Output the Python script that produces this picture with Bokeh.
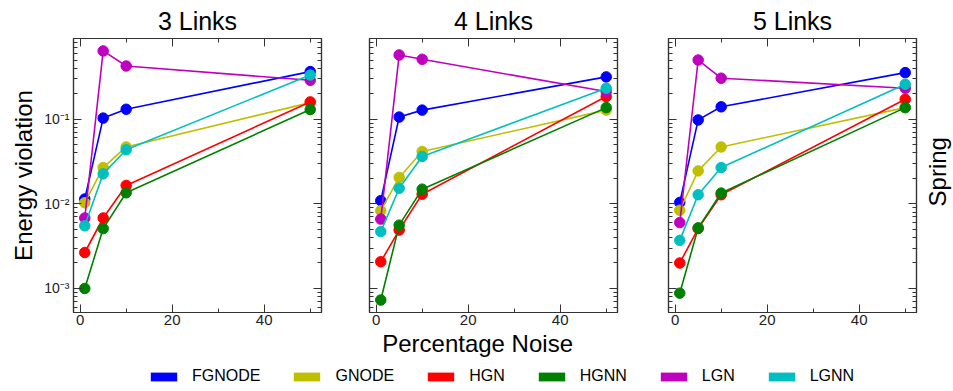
import math
from bokeh.plotting import figure
from bokeh.models import (Range1d, LogAxis, LinearAxis, LogTicker, SingleIntervalTicker,
                          CustomJSTickFormatter, Label, Legend, LegendItem, Title)
from bokeh.layouts import column, row
from bokeh.embed import file_html
from bokeh.resources import INLINE

# ---------------- data ----------------
noise = [1, 5, 10, 50]
panel_titles = ["3 Links", "4 Links", "5 Links"]
models = ["FGNODE", "GNODE", "HGN", "HGNN", "LGN", "LGNN"]
colors = ["#0000ff", "#bfbf00", "#ff0000", "#008000", "#bf00bf", "#00bfbf"]

# energy violation per panel (3, 4, 5 links), values at noise 1, 5, 10, 50 %
fgnode = [[0.0114, 0.103, 0.131, 0.365], [0.0109, 0.106, 0.128, 0.316], [0.0104, 0.098, 0.140, 0.355]]
gnode = [[0.0103, 0.0268, 0.047, 0.157], [0.0083, 0.0205, 0.0415, 0.128], [0.0084, 0.0245, 0.047, 0.137]]
hgn = [[0.00266, 0.0068, 0.0165, 0.160], [0.00207, 0.0049, 0.0130, 0.185], [0.0020, 0.0051, 0.0128, 0.172]]
hgnn = [[0.0010, 0.0051, 0.0135, 0.130], [0.00073, 0.0056, 0.0149, 0.137], [0.00088, 0.0052, 0.0134, 0.137]]
lgn = [[0.0068, 0.64, 0.425, 0.288], [0.0066, 0.574, 0.51, 0.212], [0.0060, 0.50, 0.305, 0.232]]
lgnn = [[0.0055, 0.0226, 0.0435, 0.333], [0.0047, 0.0153, 0.0363, 0.232], [0.0037, 0.0128, 0.0268, 0.259]]
series = [fgnode, gnode, hgn, hgnn, lgn, lgnn]

FONT = "Liberation Sans"
AX = "#333333"
TOP = 37
FRAME_W = 248
FRAME_H = 275
BOT = 54
H1 = TOP + FRAME_H + BOT   # 366
W_TOTAL = 953
H_TOTAL = 391
H2 = H_TOTAL - H1

sup_code = """
const e = Math.round(Math.log10(tick));
const m = {"-":"\\u207b","0":"\\u2070","1":"\\u00b9","2":"\\u00b2","3":"\\u00b3",
           "4":"\\u2074","5":"\\u2075","6":"\\u2076","7":"\\u2077","8":"\\u2078","9":"\\u2079"};
return "10" + String(e).split("").map(c => m[c]).join("");
"""


def style_axis(ax, show_labels):
    ax.major_tick_in = 8
    ax.major_tick_out = 0
    ax.minor_tick_in = 4
    ax.minor_tick_out = 0
    ax.axis_line_color = AX
    ax.axis_line_width = 1.2
    ax.major_tick_line_color = AX
    ax.minor_tick_line_color = AX
    ax.major_label_text_font = FONT
    ax.major_label_text_color = "#222222"
    if not show_labels:
        ax.formatter = CustomJSTickFormatter(code="return '';")
        ax.major_label_text_font_size = "1px"
        ax.major_label_standoff = 0


def make_panel(i, left, right):
    p = figure(width=left + FRAME_W + right, height=H1,
               x_range=Range1d(-1.45, 52.45), y_range=Range1d(5.2e-4, 0.898),
               y_axis_type="log", output_backend="svg", toolbar_location=None,
               min_border_left=left, min_border_right=right,
               min_border_top=TOP, min_border_bottom=BOT, title=panel_titles[i])
    p.title.text_font = FONT
    p.title.text_font_size = "25px"
    p.title.text_font_style = "normal"
    p.title.align = "center"
    p.title.text_color = "#000000"
    p.title.standoff = 8
    p.grid.visible = False
    p.outline_line_color = AX
    p.outline_line_width = 1.2

    xa = p.xaxis[0]
    xa.ticker = SingleIntervalTicker(interval=20, num_minor_ticks=2)
    style_axis(xa, True)
    xa.major_label_text_font_size = "15px"
    xa.major_label_standoff = 2

    ya = p.yaxis[0]
    ya.ticker = LogTicker(num_minor_ticks=10, mantissas=[1])
    if i == 0:
        style_axis(ya, True)
        ya.formatter = CustomJSTickFormatter(code=sup_code)
        ya.major_label_text_font_size = "14px"
        ya.major_label_standoff = 4
        ya.axis_label = "Energy violation"
        ya.axis_label_text_font = FONT
        ya.axis_label_text_font_size = "24px"
        ya.axis_label_text_font_style = "normal"
        ya.axis_label_text_color = "#000000"
        ya.axis_label_standoff = 4
    else:
        style_axis(ya, False)

    ta = LinearAxis(ticker=SingleIntervalTicker(interval=20, num_minor_ticks=2))
    style_axis(ta, False)
    p.add_layout(ta, "above")
    ra = LogAxis(ticker=LogTicker(num_minor_ticks=10, mantissas=[1]))
    style_axis(ra, False)
    p.add_layout(ra, "right")

    for name, c, s in zip(models, colors, series):
        p.line(noise, s[i], line_color=c, line_width=1.6)
        p.scatter(noise, s[i], size=10.5, fill_color=c, line_color=c)
    return p


p1 = make_panel(0, 73, 24)
p2 = make_panel(1, 24, 25)
p3 = make_panel(2, 26, 6)
W4 = W_TOTAL - p1.width - p2.width - p3.width

p2.add_layout(Title(text="Percentage Noise", align="left", offset=12.7, standoff=0,
                    text_font=FONT, text_font_size="24px", text_font_style="normal",
                    text_color="#000000"), "below")

# strip on the right for the row label
p4 = figure(width=W4, height=H1, x_range=Range1d(0, W4), y_range=Range1d(0, H1),
            output_backend="svg", toolbar_location=None,
            x_axis_location=None, y_axis_location=None,
            min_border_left=0, min_border_right=0, min_border_top=0, min_border_bottom=0)
p4.grid.visible = False
p4.outline_line_color = None
p4.add_layout(Label(x=W4 - 16.3, y=H1 - 178, text="Spring", angle=math.pi / 2,
                    text_font=FONT, text_font_size="24px", text_align="center",
                    text_baseline="middle", text_color="#000000"))

# legend strip
lp = figure(width=W_TOTAL, height=H2, x_range=Range1d(0, 1), y_range=Range1d(0, 1),
            output_backend="svg", toolbar_location=None,
            x_axis_location=None, y_axis_location=None,
            min_border_left=0, min_border_right=0, min_border_top=0, min_border_bottom=0)
lp.grid.visible = False
lp.outline_line_color = None
items = []
for name, c in zip(models, colors):
    # proxy glyph kept outside the visible range; only its legend swatch shows
    r = lp.quad(left=[-3], right=[-2], top=[-2], bottom=[-3], fill_color=c, line_color=None)
    items.append(LegendItem(label=name, renderers=[r]))
leg = Legend(items=items, orientation="horizontal", location=(147, 6),
             glyph_width=33, glyph_height=11, label_height=12, label_standoff=12,
             spacing=30, padding=0, margin=0, border_line_color=None,
             background_fill_alpha=0, label_text_font=FONT, label_text_font_size="16px",
             label_text_color="#000000", label_text_baseline="middle")
lp.add_layout(leg, "center")

layout = column(row(p1, p2, p3, p4), lp)
open("out.html", "w").write(file_html(layout, INLINE))
